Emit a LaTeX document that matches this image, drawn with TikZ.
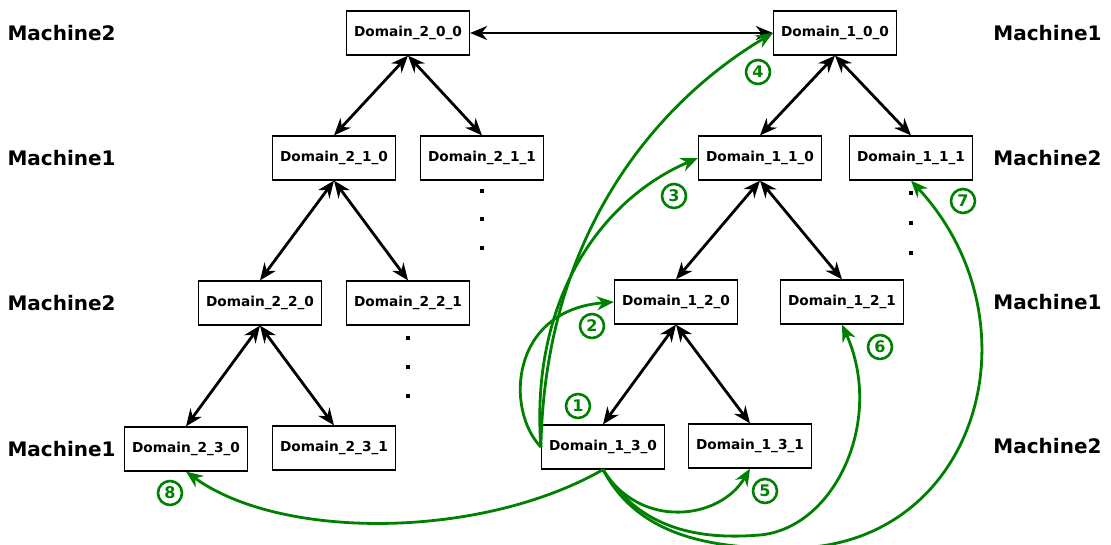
\documentclass[tikz,border=0pt]{standalone}
\usepackage{fontspec}
\setmainfont{DejaVu Sans}
\usetikzlibrary{arrows.meta}
\definecolor{stepgreen}{RGB}{0,128,0}

\tikzset{
	dom/.style={draw, line width=1.2pt, minimum width=123pt, minimum height=44pt, inner sep=0pt,
		font=\bfseries\fontsize{13.7}{15}\selectfont},
	mach/.style={font=\bfseries\fontsize{20}{22}\selectfont},
	link/.style={{Stealth[length=17pt,width=14pt]}-{Stealth[length=17pt,width=14pt]}, line width=2.8pt},
	route/.style={-{Stealth[length=17pt,width=14pt]}, stepgreen, line width=2.8pt},
	num/.style={circle, draw=stepgreen, text=stepgreen, line width=2.6pt, inner sep=0pt,
		minimum size=24pt, font=\bfseries\fontsize{16}{16}\selectfont},
}

\begin{document}
\begin{tikzpicture}[x=1pt,y=-1pt]
	\useasboundingbox (0,0) rectangle (1111,545);
	
	% machines
	\node[mach,anchor=west] (ml0) at (4,33) {Machine2};
	\node[mach,anchor=west] (ml1) at (4,158) {Machine1};
	\node[mach,anchor=west] (ml2) at (4,303) {Machine2};
	\node[mach,anchor=west] (ml3) at (4,449) {Machine1};
	\node[mach,anchor=east] (mr0) at (1105,33) {Machine1};
	\node[mach,anchor=east] (mr1) at (1105,158) {Machine2};
	\node[mach,anchor=east] (mr2) at (1105,302) {Machine1};
	\node[mach,anchor=east] (mr3) at (1105,446) {Machine2};
	
	% left tree
	\node[dom] (d200) at (408,33) {Domain\_2\_0\_0};
	\node[dom] (d210) at (334,158) {Domain\_2\_1\_0};
	\node[dom] (d211) at (482,158) {Domain\_2\_1\_1};
	\node[dom] (d220) at (260,303) {Domain\_2\_2\_0};
	\node[dom] (d221) at (408,303) {Domain\_2\_2\_1};
	\node[dom] (d230) at (186,449) {Domain\_2\_3\_0};
	\node[dom] (d231) at (334,448) {Domain\_2\_3\_1};
	
	% right tree
	\node[dom] (d100) at (835,33) {Domain\_1\_0\_0};
	\node[dom] (d110) at (760,158) {Domain\_1\_1\_0};
	\node[dom] (d111) at (911,158) {Domain\_1\_1\_1};
	\node[dom] (d120) at (676,302) {Domain\_1\_2\_0};
	\node[dom] (d121) at (842,302) {Domain\_1\_2\_1};
	\node[dom] (d130) at (603,447) {Domain\_1\_3\_0};
	\node[dom] (d131) at (750,446) {Domain\_1\_3\_1};
	
	\draw[link] (d200) -- (d100);
	\draw[link] (d200.south) -- (d210.north);
	\draw[link] (d200.south) -- (d211.north);
	\draw[link] (d210.south) -- (d220.north);
	\draw[link] (d210.south) -- (d221.north);
	\draw[link] (d220.south) -- (d230.north);
	\draw[link] (d220.south) -- (d231.north);
	\draw[link] (d100.south) -- (d110.north);
	\draw[link] (d100.south) -- (d111.north);
	\draw[link] (d110.south) -- (d120.north);
	\draw[link] (d110.south) -- (d121.north);
	\draw[link] (d120.south) -- (d130.north);
	\draw[link] (d120.south) -- (d131.north);
	
	% more children
	\foreach \k in {0,1,2}{
		\fill ([yshift=-10pt-\k*28.5pt]d211.south) +(-2,-2) rectangle +(2,2);
		\fill ([yshift=-12pt-\k*29pt]d221.south) +(-2,-2) rectangle +(2,2);
		\fill ([yshift=-12pt-\k*30pt]d111.south) +(-2,-2) rectangle +(2,2);
	}
	
	% routes
	\draw[route] (d130.west) .. controls (505,410) and (510,310) .. (d120.west);
	\draw[route] (d130.west) .. controls (530,300) and (600,200) .. (d110.west);
	\draw[route] (d130.west) .. controls (545,230) and (660,100) .. (d100.west);
	\draw[route] (d130.south) .. controls (640,530) and (720,520) .. (d131.south);
	\draw[route] (d130.south) .. controls (640,530) and (700,540) .. (760,535)
		.. controls (835,528) and (885,420) .. (d121.south);
	\draw[route] (d130.south) .. controls (640,540) and (720,550) .. (800,548)
		.. controls (980,540) and (1040,320) .. (d111.south);
	\draw[route] (d130.south) .. controls (480,540) and (280,540) .. (d230.south);
	
	\node[num] (n1) at (578,406) {1};
	\node[num] (n2) at (592,326) {2};
	\node[num] (n3) at (674,196) {3};
	\node[num] (n4) at (758,72) {4};
	\node[num] (n5) at (765,491) {5};
	\node[num] (n6) at (880,347) {6};
	\node[num] (n7) at (963,201) {7};
	\node[num] (n8) at (170,493) {8};
\end{tikzpicture}
\end{document}
